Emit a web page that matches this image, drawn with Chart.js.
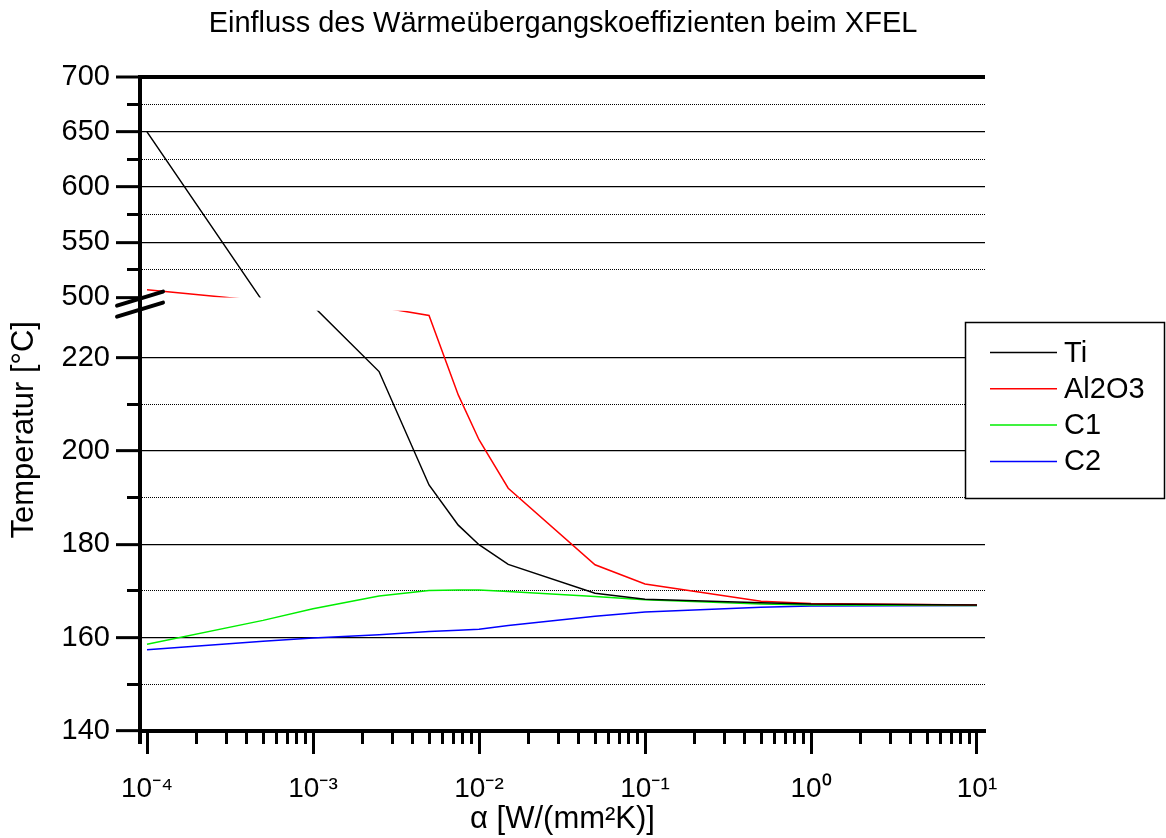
<!DOCTYPE html>
<html>
<head>
<meta charset="utf-8">
<title>Einfluss des Wärmeübergangskoeffizienten beim XFEL</title>
<script src="https://cdn.jsdelivr.net/npm/chart.js@4.4.1/dist/chart.umd.min.js"></script>
<style>
  html, body { margin: 0; padding: 0; background: #fff; }
  canvas { display: block; }
</style>
</head>
<body>
<canvas id="chart" width="1166" height="838"></canvas>
<script>
// heat transfer coefficient alpha [W/(mm^2 K)]
const alpha = [1e-4, 5e-4, 1e-3, 2.5e-3, 5e-3, 7.5e-3, 1e-2, 1.5e-2, 5e-2, 1e-1, 5e-1, 1, 10];

// temperatures [°C]
const tiTemps    = [650, 410, 330, 217.0, 192.7, 184.1, 179.9, 175.7, 169.5, 168.2, 167.5, 167.2, 167.0];
const al2o3Temps = [507, 426, 360, 308, 229.0, 212.0, 202.4, 192.0, 175.6, 171.5, 167.8, 167.3, 167.0];
const c1Temps    = [158.6, 163.7, 166.2, 168.9, 170.1, 170.2, 170.2, 169.9, 168.8, 168.1, 167.2, 167.0, 166.9];
const c2Temps    = [157.4, 159.2, 159.9, 160.6, 161.3, 161.6, 161.8, 162.6, 164.6, 165.5, 166.5, 166.8, 166.9];

const seriesNames = ['Ti', 'Al2O3', 'C1', 'C2'];

// axis ticks
const xDecades = [1e-4, 1e-3, 1e-2, 1e-1, 1, 10];
const xTickLabels = ['10⁻⁴', '10⁻³', '10⁻²', '10⁻¹', '10⁰', '10¹'];
const xMinorSteps = [2, 3, 4, 5, 6, 7, 8, 9];
const yMajorTicks = [140, 160, 180, 200, 220, 500, 550, 600, 650, 700];
const yMinorTicks = [150, 170, 190, 210, 525, 575, 625, 675];

// broken y axis: 140..230 below the break, 500..700 above
const breakLow = 230, breakHigh = 500;

const FONT = '"Liberation Sans", Arial, sans-serif';

// linear scale with an axis break (lower part, small gap, upper part)
class BrokenScale extends Chart.LinearScale {
  static id = 'broken';
  static defaults = Chart.LinearScale.defaults;

  toDecimal(v) {
    const lowShare = 0.6422, gapShare = 0.0206;
    const min = this.min, max = this.max;
    if (v <= breakLow) return (v - min) / (breakLow - min) * lowShare;
    if (v < breakHigh) return lowShare + (v - breakLow) / (breakHigh - breakLow) * gapShare;
    return lowShare + gapShare + (v - breakHigh) / (max - breakHigh) * (1 - lowShare - gapShare);
  }
  fromDecimal(d) {
    const lowShare = 0.6422, gapShare = 0.0206;
    const min = this.min, max = this.max;
    if (d <= lowShare) return min + d / lowShare * (breakLow - min);
    if (d < lowShare + gapShare) return breakLow + (d - lowShare) / gapShare * (breakHigh - breakLow);
    return breakHigh + (d - lowShare - gapShare) / (1 - lowShare - gapShare) * (max - breakHigh);
  }
  getPixelForValue(value) {
    if (value === null || isNaN(value)) return NaN;
    return this.getPixelForDecimal(this.toDecimal(value));
  }
  getValueForPixel(pixel) {
    return this.fromDecimal(this.getDecimalForPixel(pixel));
  }
}
Chart.register(BrokenScale);

function points(values) {
  return alpha.map((a, i) => ({ x: a, y: values[i] }));
}

const datasets = [tiTemps, al2o3Temps, c1Temps, c2Temps].map((vals, i) => ({
  label: seriesNames[i],
  data: points(vals),
  borderColor: ['#000000', '#ff0000', '#00ee00', '#0000ff'][i],
  borderWidth: 1.5,
  pointRadius: 0,
  tension: 0,
  fill: false
}));

// hide lines inside the break gap, then draw the break marks
const breakPlugin = {
  id: 'breakGap',
  beforeDatasetsDraw(chart) {
    const { ctx, chartArea: a, scales: { y } } = chart;
    const top = y.getPixelForValue(breakHigh), bottom = y.getPixelForValue(breakLow);
    ctx.save();
    ctx.beginPath();
    ctx.rect(a.left, a.top, a.width, top - a.top);
    ctx.rect(a.left, bottom, a.width, a.bottom - bottom);
    ctx.clip();
  },
  afterDatasetsDraw(chart) {
    chart.ctx.restore();
  },
  afterDraw(chart) {
    const { ctx, chartArea: a, scales: { y } } = chart;
    const mid = (y.getPixelForValue(breakHigh) + y.getPixelForValue(breakLow)) / 2;
    ctx.save();
    ctx.strokeStyle = '#000';
    ctx.lineWidth = 4;
    ctx.lineCap = 'round';
    [-5.5, 5.5].forEach(off => {
      ctx.beginPath();
      ctx.moveTo(a.left - 23, mid + off + 7);
      ctx.lineTo(a.left + 23, mid + off - 7);
      ctx.stroke();
    });
    // y axis line runs a little past the x axis
    ctx.lineWidth = 4;
    ctx.lineCap = 'butt';
    ctx.beginPath();
    ctx.moveTo(a.left, a.bottom);
    ctx.lineTo(a.left, a.bottom + 13);
    ctx.stroke();
    ctx.restore();
  }
};

// boxed legend overlapping the right edge of the plot
const boxLegend = {
  id: 'boxLegend',
  afterDraw(chart) {
    const ctx = chart.ctx;
    ctx.save();
    ctx.fillStyle = '#fff';
    ctx.fillRect(965, 322, 200, 177);
    ctx.strokeStyle = '#000';
    ctx.lineWidth = 1.5;
    ctx.strokeRect(965.5, 322.5, 199, 176);
    ctx.font = '29px ' + FONT;
    ctx.textBaseline = 'middle';
    chart.data.datasets.forEach((ds, i) => {
      const yy = 352.5 + i * 36.3;
      ctx.strokeStyle = ds.borderColor;
      ctx.lineWidth = 1.5;
      ctx.beginPath();
      ctx.moveTo(990, yy);
      ctx.lineTo(1057, yy);
      ctx.stroke();
      ctx.fillStyle = '#000';
      ctx.fillText(ds.label, 1064, yy + 1);
    });
    ctx.restore();
  }
};

const logMin = Math.pow(10, -4.0422), logMax = Math.pow(10, 1.0482);

new Chart(document.getElementById('chart'), {
  type: 'line',
  data: { datasets: datasets },
  plugins: [breakPlugin, boxLegend],
  options: {
    responsive: false,
    animation: false,
    layout: { padding: { left: 0, right: 40, top: 0, bottom: 0 } },
    plugins: {
      legend: { display: false },
      tooltip: { enabled: false },
      title: {
        display: true,
        text: 'Einfluss des Wärmeübergangskoeffizienten beim XFEL',
        color: '#000',
        font: { family: FONT, size: 29, weight: 'normal' },
        padding: { top: 7, bottom: 35 }
      }
    },
    scales: {
      x: {
        type: 'logarithmic',
        position: 'bottom',
        weight: 1,
        min: logMin,
        max: logMax,
        afterBuildTicks: s => { s.ticks = xDecades.map(v => ({ value: v, major: true })); },
        afterFit: s => { s.height = 107; },
        ticks: {
          autoSkip: false,
          maxRotation: 0,
          padding: 18,
          color: '#000',
          font: { family: FONT, size: 28 },
          callback: (v, i) => xTickLabels[i]
        },
        grid: { drawOnChartArea: false, tickLength: 23, tickWidth: 3, tickColor: '#000' },
        border: { display: true, width: 4, color: '#000' },
        title: {
          display: true,
          text: 'α [W/(mm²K)]',
          color: '#000',
          font: { family: FONT, size: 31 },
          padding: { top: 0, bottom: 0 }
        }
      },
      xMinor: {
        type: 'logarithmic',
        position: 'bottom',
        weight: 0,
        min: logMin,
        max: logMax,
        afterBuildTicks: s => {
          s.ticks = xDecades.slice(0, -1).flatMap(d => xMinorSteps.map(m => ({ value: d * m })));
        },
        afterFit: s => { s.height = 0; },
        ticks: { display: false, autoSkip: false },
        grid: { drawOnChartArea: false, tickLength: 13, tickWidth: 3, tickColor: '#000' },
        border: { display: false }
      },
      y: {
        type: 'broken',
        position: 'left',
        weight: 1,
        min: 140,
        max: 700,
        afterBuildTicks: s => { s.ticks = yMajorTicks.map(v => ({ value: v })); },
        afterFit: s => { s.width = 140; },
        ticks: {
          autoSkip: false,
          padding: 6,
          color: '#000',
          font: { family: FONT, size: 29 },
          callback: v => String(v)
        },
        grid: {
          color: c => (c.tick && c.tick.value === breakHigh ? 'rgba(0,0,0,0)' : '#000'),
          lineWidth: c => (c.tick && c.tick.value === 700 ? 4 : 1.3),
          tickLength: 24,
          tickWidth: 3,
          tickColor: '#000'
        },
        border: { display: true, width: 4, color: '#000' },
        title: {
          display: true,
          text: 'Temperatur [°C]      ',
          color: '#000',
          font: { family: FONT, size: 31 },
          padding: { top: 6, bottom: 0 }
        }
      },
      yMinor: {
        type: 'broken',
        position: 'left',
        weight: 0,
        min: 140,
        max: 700,
        afterBuildTicks: s => { s.ticks = yMinorTicks.map(v => ({ value: v })); },
        afterFit: s => { s.width = 0; },
        ticks: { display: false, autoSkip: false },
        grid: { color: '#000', lineWidth: 1, tickLength: 13, tickWidth: 3, tickColor: '#000' },
        border: { display: false, dash: [1, 1] }
      },
      // empty space to the right of the plot, under the legend
      rightSpace: {
        type: 'linear',
        position: 'right',
        display: true,
        afterFit: s => { s.width = 141; },
        ticks: { display: false },
        grid: { display: false },
        border: { display: false }
      }
    }
  }
});
</script>
</body>
</html>
